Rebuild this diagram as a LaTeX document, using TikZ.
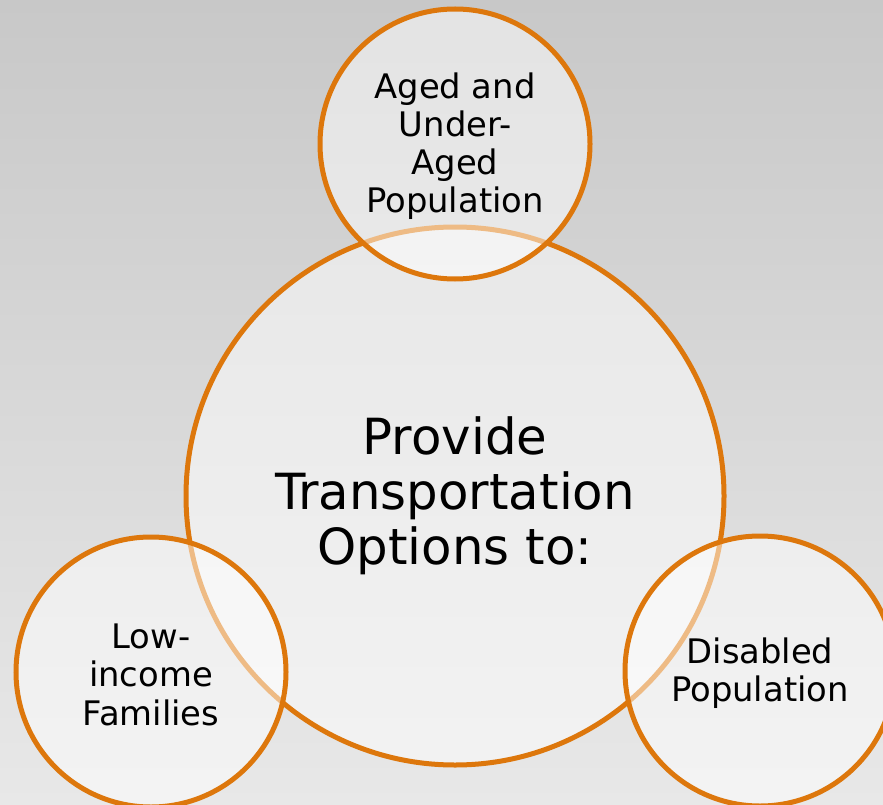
\documentclass[tikz,border=0pt]{standalone}
\usepackage{fontspec}
\setmainfont{DejaVu Sans}
\definecolor{ring.fg}{RGB}{221,119,12}
\definecolor{back.top}{RGB}{200,200,200}
\definecolor{back.bot}{RGB}{232,232,232}

\begin{document}
\begin{tikzpicture}[x=1pt, y=-1pt]
  \tikzset{bub/.append style={circle, draw=ring.fg, line width=5pt,
      fill=white, fill opacity=0.5, text opacity=1, inner sep=0,
      align=center, font=\fontsize{33.8}{38.3}\selectfont}}
  \useasboundingbox (0,0) rectangle (883,805);
  \clip (0,0) rectangle (883,805);
  \shade[top color=back.top, bottom color=back.bot] (0,0) rectangle (883,805);

  \node[bub, minimum size=538pt, font=\fontsize{49.8}{55}\selectfont]
    (main) at (455,496) {Provide\\Transportation\\Options to:};

  \node[bub, minimum size=270pt] (aged) at (455,144)
    {\rule{0pt}{30pt}Aged and\\Under-\\Aged\\Population};
  \node[bub, minimum size=270pt] (low) at (151,672)
    {\rule{0pt}{30pt}Low-\\income\\Families};
  \node[bub, minimum size=270pt] (dis) at (760,671)
    {\rule{0pt}{30pt}Disabled\\Population};
\end{tikzpicture}
\end{document}
